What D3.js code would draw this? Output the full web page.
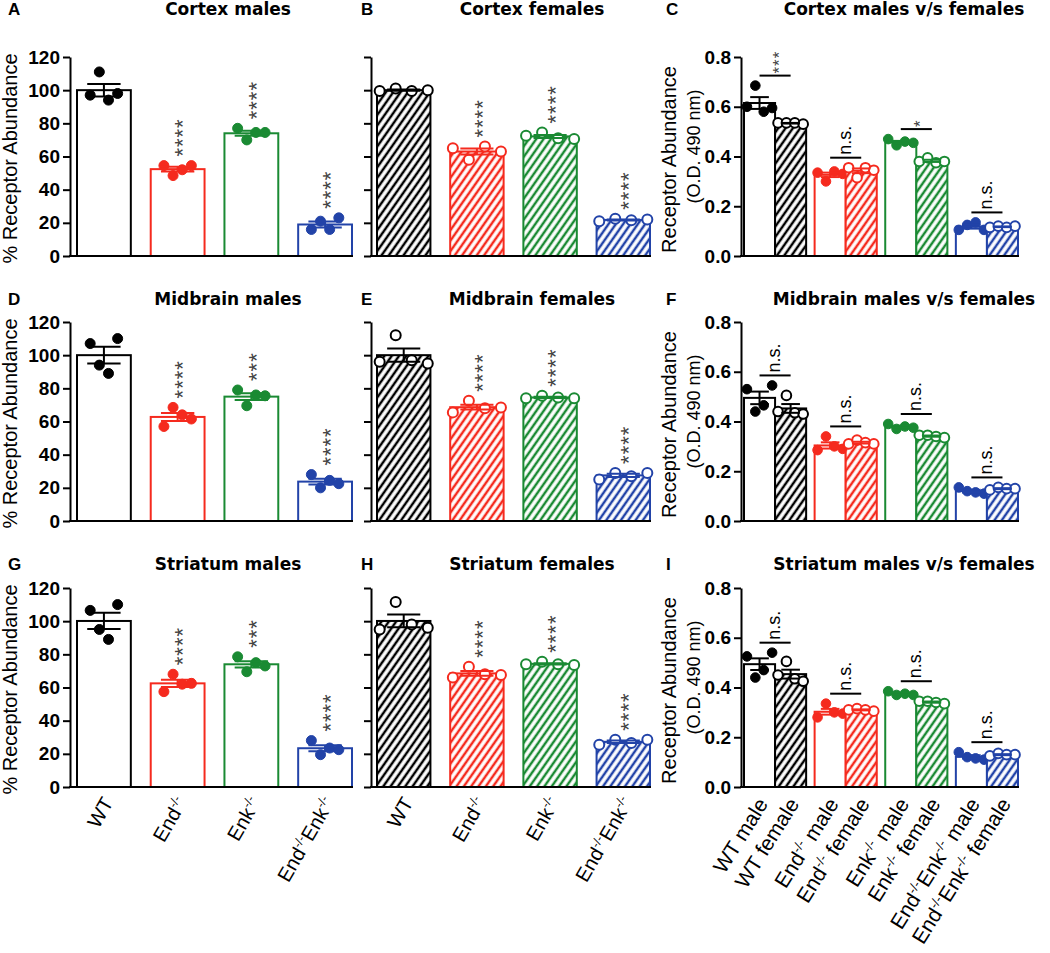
<!DOCTYPE html>
<html><head><meta charset="utf-8">
<script src="https://cdn.jsdelivr.net/npm/d3@7"></script>
<style>body{margin:0;background:#fff}svg{display:block}</style>
</head><body>
<svg id="chart" width="1050" height="953"></svg>
<script>
// ---------------- DATA ----------------
const regions = ["Cortex", "Midbrain", "Striatum"];
const panelLetters = [["A", "B", "C"], ["D", "E", "F"], ["G", "H", "I"]];
const genotypeLabelParts = [
  [["WT", 0]],
  [["End", 0], ["-/-", 1]],
  [["Enk", 0], ["-/-", 1]],
  [["End", 0], ["-/-", 1], ["Enk", 0], ["-/-", 1]]
];
const sexLabels = [" male", " female"];
const pctTicks = [0, 20, 40, 60, 80, 100, 120];
const odTicks = [0, 0.2, 0.4, 0.6, 0.8];
const pctAxisLabel = "% Receptor Abundance";
const odAxisLabel1 = "Receptor Abundance";
const odAxisLabel2 = "(O.D. 490 nm)";

// % receptor abundance, individual animals (WT, End-/-, Enk-/-, End-/-Enk-/-)
const cortexMalesPct    = [[97, 111, 94, 98], [54.5, 48.5, 52, 54.5], [77, 70, 74.5, 74.5], [16, 21, 16, 23]];
const cortexFemalesPct  = [[99.5, 101, 99.5, 100], [65, 58, 66, 63], [72.5, 74.5, 71, 70.5], [21, 22.5, 21.5, 22]];
const midbrainMalesPct  = [[107, 94, 89, 110], [57, 68.5, 64, 61.5], [79, 69.5, 76, 75.5], [28, 20, 24.5, 22.5]];
const midbrainFemalesPct= [[96, 112, 97, 95], [65.5, 72.5, 68, 68.5], [74, 75.5, 74.5, 74], [25, 29, 27, 29]];
const striatumMalesPct  = [[106.5, 95, 89, 110], [57.5, 68, 62, 62.5], [78.5, 69.5, 75, 73], [28, 19.5, 23.5, 22.5]];
const striatumFemalesPct= [[95, 111.5, 98, 96], [66, 72.5, 68, 67.5], [74, 75.5, 74, 73.5], [25.5, 28.5, 26.5, 28.5]];

// O.D. 490 nm values
const cortexMalesOD     = [[0.60, 0.685, 0.58, 0.595], [0.335, 0.30, 0.34, 0.33], [0.47, 0.445, 0.46, 0.455], [0.105, 0.125, 0.135, 0.105]];
const cortexFemalesOD   = [[0.535, 0.535, 0.535, 0.53], [0.355, 0.315, 0.355, 0.345], [0.38, 0.395, 0.375, 0.38], [0.115, 0.12, 0.115, 0.12]];
const midbrainMalesOD   = [[0.53, 0.44, 0.465, 0.545], [0.285, 0.34, 0.30, 0.29], [0.39, 0.37, 0.38, 0.375], [0.135, 0.12, 0.115, 0.11]];
const midbrainFemalesOD = [[0.44, 0.505, 0.435, 0.43], [0.31, 0.325, 0.315, 0.31], [0.345, 0.345, 0.34, 0.335], [0.125, 0.135, 0.13, 0.13]];
const striatumMalesOD   = [[0.525, 0.44, 0.47, 0.54], [0.28, 0.335, 0.30, 0.295], [0.385, 0.37, 0.375, 0.37], [0.14, 0.12, 0.115, 0.11]];
const striatumFemalesOD = [[0.45, 0.505, 0.435, 0.425], [0.31, 0.315, 0.31, 0.305], [0.345, 0.345, 0.34, 0.335], [0.125, 0.135, 0.13, 0.13]];

// significance annotations
const cortexMaleStars     = ["", "****", "****", "****"];
const cortexFemaleStars   = ["", "****", "****", "****"];
const midbrainMaleStars   = ["", "****", "***", "****"];
const midbrainFemaleStars = ["", "****", "****", "****"];
const striatumMaleStars   = ["", "****", "***", "****"];
const striatumFemaleStars = ["", "****", "****", "****"];
const cortexSexSig   = ["***", "n.s.", "*", "n.s."];
const midbrainSexSig = ["n.s.", "n.s.", "n.s.", "n.s."];
const striatumSexSig = ["n.s.", "n.s.", "n.s.", "n.s."];

const malePct = [cortexMalesPct, midbrainMalesPct, striatumMalesPct];
const femalePct = [cortexFemalesPct, midbrainFemalesPct, striatumFemalesPct];
const maleOD = [cortexMalesOD, midbrainMalesOD, striatumMalesOD];
const femaleOD = [cortexFemalesOD, midbrainFemalesOD, striatumFemalesOD];
const maleStars = [cortexMaleStars, midbrainMaleStars, striatumMaleStars];
const femaleStars = [cortexFemaleStars, midbrainFemaleStars, striatumFemaleStars];
const sexSig = [cortexSexSig, midbrainSexSig, striatumSexSig];

// ---------------- STYLE / LAYOUT ----------------
const colors = ["#000000", "#f52a1e", "#1a8a33", "#2243a8"];
const FONT = "'Liberation Sans', Arial, Helvetica, sans-serif";
const TFONT = "'DejaVu Sans', 'Liberation Sans', sans-serif";
const rows = [
  {top: 57, bottom: 256, title: 15},
  {top: 322, bottom: 521, title: 305},
  {top: 588, bottom: 787, title: 570}
];
const cols = [
  {axisX: 70, x0: 77, x1: 352, titleX: 228, letterX: 8},
  {axisX: 371, x0: 377, x1: 650, titleX: 532, letterX: 361},
  {axisX: 741, x0: 744, x1: 1018, titleX: 904, letterX: 666}
];

const svg = d3.select("#chart");
svg.append("rect").attr("width", 1050).attr("height", 953).attr("fill", "#fff");

// hatch patterns
const defs = svg.append("defs");
colors.forEach((c, i) => {
  const p = defs.append("pattern").attr("id", "hatch" + i)
    .attr("patternUnits", "userSpaceOnUse").attr("width", 6).attr("height", 6)
    .attr("patternTransform", "rotate(35)");
  p.append("rect").attr("width", 6).attr("height", 6).attr("fill", "#fff");
  p.append("line").attr("x1", 3).attr("y1", -1).attr("x2", 3).attr("y2", 7)
    .attr("stroke", c).attr("stroke-width", 2.5);
});

const stat = pts => ({mean: d3.mean(pts), sem: d3.deviation(pts) / Math.sqrt(pts.length), max: d3.max(pts)});

function styleAxis(a) {
  a.select(".domain").attr("stroke", "#000").attr("stroke-width", 2);
  a.selectAll(".tick line").attr("stroke", "#000").attr("stroke-width", 2);
  a.selectAll(".tick text").attr("font-family", FONT).attr("font-size", 19)
    .attr("font-weight", "bold").attr("fill", "#000");
}

function rotLabel(g, cx, y0, parts, size, angle) {
  const t = g.append("text")
    .attr("transform", `translate(${cx},${y0}) rotate(${angle})`)
    .attr("text-anchor", "end").attr("font-family", FONT).attr("font-size", size).attr("fill", "#000");
  let sup = false, first = true;
  parts.forEach(([txt, isSup]) => {
    const ts = t.append("tspan").text(txt);
    let dy = first ? size * 0.35 : 0;
    if (isSup && !sup) dy -= size * 0.38;
    if (!isSup && sup) dy += size * 0.38;
    if (dy) ts.attr("dy", dy);
    if (isSup) ts.attr("font-size", size * 0.62);
    sup = !!isSup; first = false;
  });
}

function titleAndLetter(r, c, txt) {
  const R = rows[r], C = cols[c];
  svg.append("text").attr("x", C.titleX).attr("y", R.title).attr("text-anchor", "middle")
    .attr("font-family", TFONT).attr("font-weight", "bold").attr("font-size", 17).text(txt);
  svg.append("text").attr("x", C.letterX).attr("y", R.title).attr("font-family", FONT)
    .attr("font-weight", "bold").attr("font-size", 17).text(panelLetters[r][c]);
}

function starText(g, cx, yb, s, size) {
  g.append("text").attr("transform", `translate(${cx},${yb}) rotate(-90)`)
    .attr("dy", "0.58em").attr("font-family", FONT).attr("font-size", size)
    .attr("letter-spacing", 1).attr("fill", "#444").text(s);
}

// ---------- % panels ----------
function pctPanel(r, c, data, stars, female) {
  const R = rows[r], C = cols[c];
  const g = svg.append("g");
  const y = d3.scaleLinear().domain([0, 120]).range([R.bottom, R.top]);
  const x = d3.scaleBand().domain(d3.range(4)).range([C.x0, C.x1]).paddingInner(0.27).paddingOuter(0);
  const bw = x.bandwidth();
  const st = data.map(stat);

  g.selectAll("rect.bar").data(st).join("rect").attr("class", "bar")
    .attr("x", (d, i) => x(i)).attr("y", d => y(d.mean))
    .attr("width", bw).attr("height", d => y(0) - y(d.mean))
    .attr("fill", (d, i) => female ? `url(#hatch${i})` : "#fff")
    .attr("stroke", (d, i) => colors[i]).attr("stroke-width", 2);

  const spread = female ? 0.3 : 0.17;
  data.forEach((pts, i) => {
    const cx = x(i) + bw / 2;
    g.selectAll(null).data(pts).join("circle")
      .attr("cx", (v, j) => cx + (j - (pts.length - 1) / 2) * bw * spread)
      .attr("cy", v => y(v)).attr("r", 5)
      .attr("fill", female ? "#fff" : colors[i])
      .attr("stroke", colors[i]).attr("stroke-width", female ? 2 : 1);
    const s = st[i], cap = bw * 0.62;
    const eg = g.append("g").attr("stroke", colors[i]).attr("stroke-width", 2);
    eg.append("line").attr("x1", cx).attr("x2", cx).attr("y1", y(s.mean - s.sem)).attr("y2", y(s.mean + s.sem));
    [s.mean - s.sem, s.mean + s.sem].forEach(v =>
      eg.append("line").attr("x1", cx - cap / 2).attr("x2", cx + cap / 2).attr("y1", y(v)).attr("y2", y(v)));
    if (stars[i]) starText(g, cx, y(Math.max(s.max, s.mean + s.sem)) - 9, stars[i], 22);
  });

  const ax = g.append("g").attr("transform", `translate(${C.axisX},0)`)
    .call(d3.axisLeft(y).tickValues(pctTicks).tickSize(7).tickPadding(3).tickSizeOuter(0)
      .tickFormat(c === 0 ? d3.format("d") : () => ""));
  styleAxis(ax);
  g.append("line").attr("x1", C.axisX - 1).attr("x2", C.x1 + 1).attr("y1", R.bottom).attr("y2", R.bottom)
    .attr("stroke", "#000").attr("stroke-width", 2);

  if (c === 0) {
    g.append("text").attr("transform", `translate(17,${(R.top + R.bottom) / 2 + 2}) rotate(-90)`)
      .attr("text-anchor", "middle").attr("font-family", FONT).attr("font-size", 20).text(pctAxisLabel);
  }
  if (r === 2) {
    genotypeLabelParts.forEach((parts, i) => rotLabel(g, x(i) + bw / 2 + 4, R.bottom + 12, parts, 20, -60));
  }
  titleAndLetter(r, c, regions[r] + (female ? " females" : " males"));
}

// ---------- male vs female panels ----------
function sexPanel(r, mData, fData, sig) {
  const R = rows[r], C = cols[2];
  const g = svg.append("g");
  const y = d3.scaleLinear().domain([0, 0.8]).range([R.bottom, R.top]);
  const xg = d3.scaleBand().domain(d3.range(4)).range([C.x0, C.x1]).paddingInner(0.12).paddingOuter(0);
  const xs = d3.scaleBand().domain([0, 1]).range([0, xg.bandwidth()]).padding(0);
  const bw = xs.bandwidth();

  [mData, fData].forEach((data, s) => {
    const female = s === 1;
    const st = data.map(stat);
    g.selectAll(null).data(st).join("rect")
      .attr("x", (d, i) => xg(i) + xs(s)).attr("y", d => y(d.mean))
      .attr("width", bw).attr("height", d => y(0) - y(d.mean))
      .attr("fill", (d, i) => female ? `url(#hatch${i})` : "#fff")
      .attr("stroke", (d, i) => colors[i]).attr("stroke-width", 2);
    data.forEach((pts, i) => {
      const cx = xg(i) + xs(s) + bw / 2;
      g.selectAll(null).data(pts).join("circle")
        .attr("cx", (v, j) => cx + (j - (pts.length - 1) / 2) * bw * 0.27)
        .attr("cy", v => y(v)).attr("r", 4.8)
        .attr("fill", female ? "#fff" : colors[i])
        .attr("stroke", colors[i]).attr("stroke-width", female ? 2 : 1);
      const d = st[i], cap = bw * 0.6;
      const eg = g.append("g").attr("stroke", colors[i]).attr("stroke-width", 2);
      eg.append("line").attr("x1", cx).attr("x2", cx).attr("y1", y(d.mean - d.sem)).attr("y2", y(d.mean + d.sem));
      [d.mean - d.sem, d.mean + d.sem].forEach(v =>
        eg.append("line").attr("x1", cx - cap / 2).attr("x2", cx + cap / 2).attr("y1", y(v)).attr("y2", y(v)));
    });
  });

  // significance brackets
  sig.forEach((lab, i) => {
    const m = stat(mData[i]), f = stat(fData[i]);
    const top = Math.max(m.max, f.max, m.mean + m.sem, f.mean + f.sem);
    const ly = y(top) - 10;
    const xa = xg(i) + xs(0) + bw / 2, xb = xg(i) + xs(1) + bw / 2;
    g.append("line").attr("x1", xa).attr("x2", xb).attr("y1", ly).attr("y2", ly)
      .attr("stroke", "#000").attr("stroke-width", 2);
    const mx = (xa + xb) / 2;
    if (lab === "n.s.") {
      g.append("text").attr("transform", `translate(${mx},${ly - 3}) rotate(-90)`)
        .attr("dy", "0.27em").attr("font-family", FONT).attr("font-size", 18).text(lab);
    } else {
      starText(g, mx, ly - 2, lab, 17);
    }
  });

  const ax = g.append("g").attr("transform", `translate(${C.axisX},0)`)
    .call(d3.axisLeft(y).tickValues(odTicks).tickSize(7).tickPadding(3).tickSizeOuter(0).tickFormat(d3.format(".1f")));
  styleAxis(ax);
  g.append("line").attr("x1", C.axisX - 1).attr("x2", C.x1 + 1).attr("y1", R.bottom).attr("y2", R.bottom)
    .attr("stroke", "#000").attr("stroke-width", 2);

  const mid = (R.top + R.bottom) / 2;
  g.append("text").attr("transform", `translate(676,${mid + 3}) rotate(-90)`)
    .attr("text-anchor", "middle").attr("font-family", FONT).attr("font-size", 20).text(odAxisLabel1);
  g.append("text").attr("transform", `translate(700,${mid - 10}) rotate(-90)`)
    .attr("text-anchor", "middle").attr("font-family", FONT).attr("font-size", 18).text(odAxisLabel2);

  if (r === 2) {
    for (let i = 0; i < 4; i++) {
      for (let s = 0; s < 2; s++) {
        const cx = xg(i) + xs(s) + bw / 2;
        rotLabel(g, cx + 3, R.bottom + 13, genotypeLabelParts[i].concat([[sexLabels[s], 0]]), 21, -58);
      }
    }
  }
  titleAndLetter(r, 2, regions[r] + " males v/s females");
}

for (let r = 0; r < 3; r++) {
  pctPanel(r, 0, malePct[r], maleStars[r], false);
  pctPanel(r, 1, femalePct[r], femaleStars[r], true);
  sexPanel(r, maleOD[r], femaleOD[r], sexSig[r]);
}
</script>
</body></html>
